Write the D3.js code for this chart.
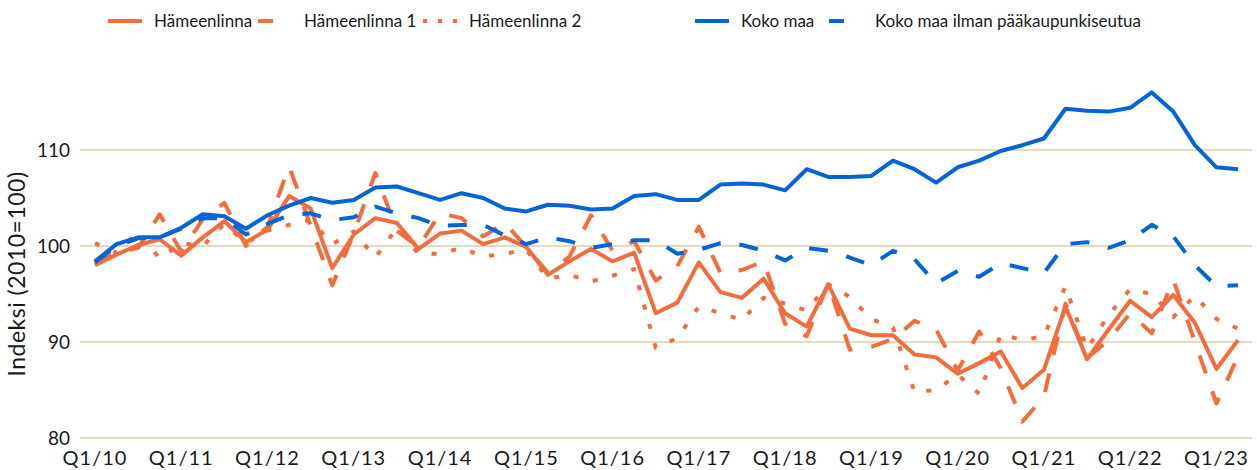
<!DOCTYPE html>
<html>
<head>
<meta charset="utf-8">
<script src="https://cdn.jsdelivr.net/npm/d3@7"></script>
<style>
  body { margin: 0; background: #fff; }
  text { font-family: Lato, "Open Sans", sans-serif; fill: #1a1a1a; }
</style>
</head>
<body>
<div id="chart"></div>
<script>
const width = 1257, height = 470;

// quarters Q1/10 .. Q2/23
const quarters = [
  "Q1/10","Q2/10","Q3/10","Q4/10","Q1/11","Q2/11","Q3/11","Q4/11",
  "Q1/12","Q2/12","Q3/12","Q4/12","Q1/13","Q2/13","Q3/13","Q4/13",
  "Q1/14","Q2/14","Q3/14","Q4/14","Q1/15","Q2/15","Q3/15","Q4/15",
  "Q1/16","Q2/16","Q3/16","Q4/16","Q1/17","Q2/17","Q3/17","Q4/17",
  "Q1/18","Q2/18","Q3/18","Q4/18","Q1/19","Q2/19","Q3/19","Q4/19",
  "Q1/20","Q2/20","Q3/20","Q4/20","Q1/21","Q2/21","Q3/21","Q4/21",
  "Q1/22","Q2/22","Q3/22","Q4/22","Q1/23","Q2/23"
];
const xTickLabels = ["Q1/10","Q1/11","Q1/12","Q1/13","Q1/14","Q1/15","Q1/16",
  "Q1/17","Q1/18","Q1/19","Q1/20","Q1/21","Q1/22","Q1/23"];
const yTicks = [80, 90, 100, 110];

const hameenlinna = [98.0, 99.1, 100.1, 100.7, 99.0, 100.9, 102.6, 100.4, 101.7, 105.2,
  103.9, 97.7, 101.2, 102.9, 102.4, 99.7, 101.3, 101.6, 100.2, 100.9,
  99.9, 97.0, 98.4, 99.7, 98.4, 99.3, 93.0, 94.1, 98.3, 95.2,
  94.6, 96.6, 93.0, 91.6, 96.0, 91.4, 90.7, 90.7, 88.7, 88.4,
  86.7, 87.8, 89.0, 85.2, 87.1, 93.7, 88.2, 91.3, 94.3, 92.6,
  94.9, 92.0, 87.2, 90.2];
const hameenlinna1 = [98.1, 99.3, 99.8, 103.3, 99.4, 102.8, 104.5, 100.0, 102.0, 108.3,
  102.1, 95.9, 101.3, 107.6, 101.6, 99.9, 103.4, 102.9, 101.0, 102.4,
  99.9, 97.2, 98.9, 103.2, 99.5, 100.5, 96.4, 97.9, 102.0, 97.2,
  97.5, 98.4, 91.9, 90.6, 96.1, 89.2, 89.5, 90.3, 92.2, 91.3,
  87.0, 91.1, 87.3, 81.7, 84.3, 94.0, 88.3, 90.2, 93.0, 90.9,
  96.5, 90.0, 83.6, 88.5];
const hameenlinna2 = [100.3, 99.3, 101.5, 98.7, 100.3, 100.0, 102.3, 100.3, 101.6, 102.2,
  102.7, 100.2, 101.5, 98.8, 101.9, 99.2, 99.2, 99.8, 98.9, 99.2,
  99.6, 96.6, 97.0, 96.3, 96.9, 97.6, 89.4, 90.4, 93.7, 93.0,
  92.3, 94.6, 94.0, 93.3, 96.0, 94.7, 92.4, 91.5, 84.8, 85.0,
  86.6, 84.6, 90.8, 90.2, 90.6, 95.8, 89.3, 92.8, 95.5, 95.0,
  92.6, 94.8, 92.4, 91.4];
const kokoMaa = [98.4, 100.2, 100.9, 100.9, 101.9, 103.3, 103.1, 101.8, 103.2, 104.2,
  105.0, 104.5, 104.8, 106.1, 106.2, 105.5, 104.8, 105.5, 105.0, 103.9,
  103.6, 104.3, 104.2, 103.8, 103.9, 105.2, 105.4, 104.8, 104.8, 106.4,
  106.5, 106.4, 105.8, 108.0, 107.2, 107.2, 107.3, 108.9, 108.0, 106.6,
  108.2, 108.9, 109.9, 110.5, 111.2, 114.3, 114.1, 114.0, 114.4, 116.0,
  114.0, 110.5, 108.2, 108.0];
const kokoMaaIlman = [98.3, 100.0, 100.8, 100.9, 101.8, 102.9, 102.9, 101.2, 102.3, 103.2,
  103.4, 102.7, 103.0, 104.1, 103.4, 102.9, 102.1, 102.2, 102.2, 101.1,
  100.2, 100.9, 100.5, 99.8, 100.2, 100.6, 100.6, 99.2, 99.6, 100.3,
  100.1, 99.5, 98.5, 99.8, 99.5, 98.8, 98.0, 99.5, 98.6, 96.1,
  97.4, 96.8, 98.2, 97.7, 97.2, 100.2, 100.4, 99.8, 100.6, 102.2,
  101.0, 98.0, 95.8, 95.9];

const orange = "#f26c3d", blue = "#0565d8";

const series = [
  { name: "Hämeenlinna", values: hameenlinna, color: orange, dash: null, legendDash: null },
  { name: "Hämeenlinna 1", values: hameenlinna1, color: orange, dash: "19,19", legendDash: "15,20" },
  { name: "Hämeenlinna 2", values: hameenlinna2, color: orange, dash: "5,15", legendDash: "4,11" },
  { name: "Koko maa", values: kokoMaa, color: blue, dash: null, legendDash: null },
  { name: "Koko maa ilman pääkaupunkiseutua", values: kokoMaaIlman, color: blue, dash: "19,19", legendDash: "15,20" }
];

const svg = d3.select("#chart").append("svg")
  .attr("width", width)
  .attr("height", height);

const x = d3.scalePoint()
  .domain(quarters)
  .range([95, 1238]);

const y = d3.scaleLinear()
  .domain([80, 110])
  .range([438, 150]);

// gridlines
svg.append("g")
  .selectAll("line")
  .data(yTicks)
  .join("line")
    .attr("x1", 80)
    .attr("x2", 1252)
    .attr("y1", d => y(d))
    .attr("y2", d => y(d))
    .attr("stroke", "#e4dbc3")
    .attr("stroke-width", 2);

// y labels
svg.append("g")
  .selectAll("text")
  .data(yTicks)
  .join("text")
    .attr("x", 70)
    .attr("y", d => y(d))
    .attr("dy", "0.35em")
    .attr("text-anchor", "end")
    .style("font-size", "19px")
    .text(d => d);

// x labels
svg.append("g")
  .selectAll("text")
  .data(xTickLabels)
  .join("text")
    .attr("x", d => x(d))
    .attr("y", 465)
    .attr("text-anchor", "middle")
    .style("font-size", "20px")
    .style("letter-spacing", "1px")
    .text(d => d);

// y title
svg.append("text")
  .attr("transform", "translate(25, 274) rotate(-90)")
  .attr("text-anchor", "middle")
  .style("font-size", "23px")
  .style("letter-spacing", "0.5px")
  .text("Indeksi (2010=100)");

const line = d3.line()
  .x((d, i) => x(quarters[i]))
  .y(d => y(d));

svg.append("g")
  .selectAll("path")
  .data(series)
  .join("path")
    .attr("d", d => line(d.values))
    .attr("fill", "none")
    .attr("stroke", d => d.color)
    .attr("stroke-width", 4)
    .attr("stroke-linejoin", "round")
    .attr("stroke-dasharray", d => d.dash);

// legend
const legendX = [108, 258, 423, 695, 829];
let legend = svg.append("g")
  .selectAll("g")
  .data(series)
  .join("g")
    .attr("transform", (d, i) => `translate(${legendX[i]}, 21)`);

legend.append("line")
  .attr("x1", 0)
  .attr("x2", 34)
  .attr("stroke", d => d.color)
  .attr("stroke-width", 4)
  .attr("stroke-dasharray", d => d.legendDash);

legend.append("text")
  .attr("x", 46)
  .attr("dy", "0.35em")
  .style("font-size", "17px")
  .text(d => d.name);
</script>
</body>
</html>
